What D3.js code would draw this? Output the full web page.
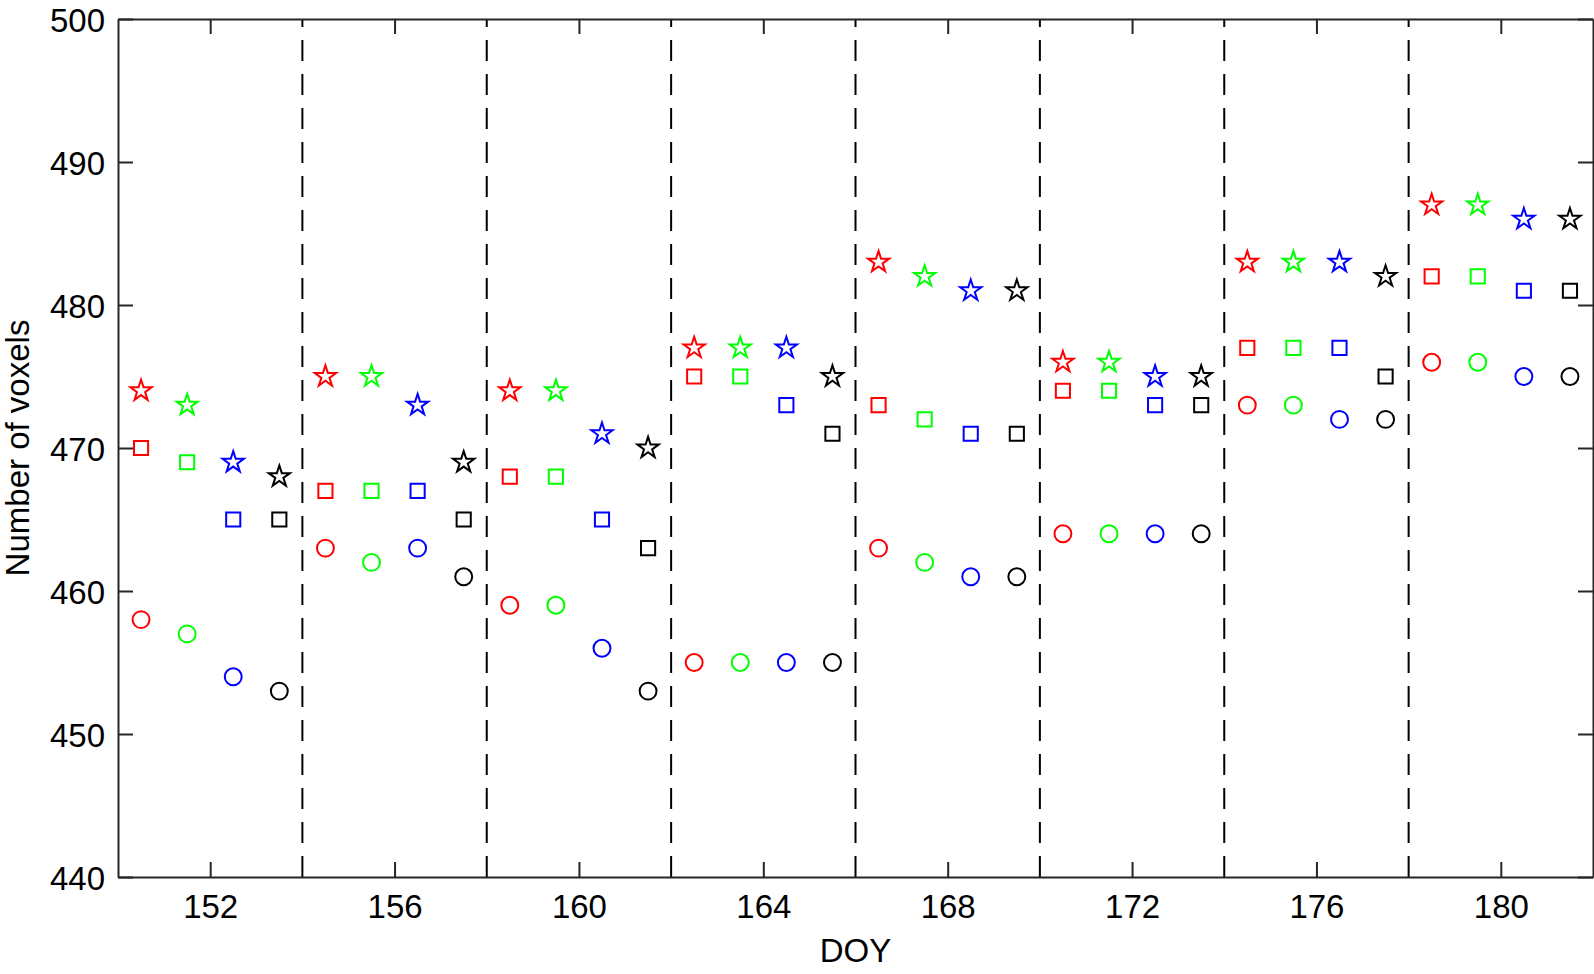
<!DOCTYPE html>
<html>
<head>
<meta charset="utf-8">
<script src="https://cdn.jsdelivr.net/npm/d3@7"></script>
<style>
  body { margin: 0; background: #fff; }
  svg text { font-family: "Liberation Sans", Arial, sans-serif; }
</style>
</head>
<body>
<div id="chart"></div>
<script>
// day of year for every marker column
const days = [150.5, 151.5, 152.5, 153.5, 154.5, 155.5, 156.5, 157.5,
              158.5, 159.5, 160.5, 161.5, 162.5, 163.5, 164.5, 165.5,
              166.5, 167.5, 168.5, 169.5, 170.5, 171.5, 172.5, 173.5,
              174.5, 175.5, 176.5, 177.5, 178.5, 179.5, 180.5, 181.5]
const stars   = [474, 473, 469, 468, 475, 475, 473, 469, 474, 474, 471, 470, 477, 477, 477, 475,
                 483, 482, 481, 481, 476, 476, 475, 475, 483, 483, 483, 482, 487, 487, 486, 486]
const squares = [470, 469, 465, 465, 467, 467, 467, 465, 468, 468, 465, 463, 475, 475, 473, 471,
                 473, 472, 471, 471, 474, 474, 473, 473, 477, 477, 477, 475, 482, 482, 481, 481]
const circles = [458, 457, 454, 453, 463, 462, 463, 461, 459, 459, 456, 453, 455, 455, 455, 455,
                 463, 462, 461, 461, 464, 464, 464, 464, 473, 473, 472, 472, 476, 476, 475, 475]
const dividers = [154, 158, 162, 166, 170, 174, 178]
const xTicks = [152, 156, 160, 164, 168, 172, 176, 180]
const yTicks = [440, 450, 460, 470, 480, 490, 500]
const COLORS = ["#ff0000", "#00ff00", "#0000ff", "#000000"]
const AXIS_COLOR = "#262626"

const width = 1594, height = 974
const margin = {left: 118, right: 1, top: 19, bottom: 97}

const svg = d3.select("#chart").append("svg").attr("width", width).attr("height", height)

let x = d3.scaleLinear().domain([150, 182]).range([margin.left, width - margin.right])
let y = d3.scaleLinear().domain([440, 500]).range([height - margin.bottom, margin.top])

// dashed separators
svg.append("g").selectAll("line").data(dividers).join("line")
    .attr("x1", d => x(d)).attr("x2", d => x(d))
    .attr("y1", y(440)).attr("y2", y(500))
    .attr("stroke", "#000").attr("stroke-width", 2)
    .attr("stroke-dasharray", "21,13")

// axes, ticks pointing inward on all four sides
function styleAxis(g) {
    g.selectAll("path.domain").attr("stroke", AXIS_COLOR).attr("stroke-width", 2)
    g.selectAll(".tick line").attr("stroke", AXIS_COLOR).attr("stroke-width", 2)
    g.selectAll("text").attr("fill", "#000").attr("font-size", "33px")
}

svg.append("g").attr("transform", `translate(0,${y(440)})`)
    .call(d3.axisBottom(x).tickValues(xTicks).tickSizeInner(-15).tickSizeOuter(0).tickPadding(18).tickFormat(d3.format("d")))
    .call(styleAxis)
svg.append("g").attr("transform", `translate(0,${y(500)})`)
    .call(d3.axisTop(x).tickValues(xTicks).tickSizeInner(-15).tickSizeOuter(0).tickFormat(""))
    .call(styleAxis)
svg.append("g").attr("transform", `translate(${x(150)},0)`)
    .call(d3.axisLeft(y).tickValues(yTicks).tickSizeInner(-15).tickSizeOuter(0).tickPadding(13).tickFormat(d3.format("d")))
    .call(styleAxis)
    .selectAll("text").attr("dy", "0.38em")
svg.append("g").attr("transform", `translate(${x(182)},0)`)
    .call(d3.axisRight(y).tickValues(yTicks).tickSizeInner(-15).tickSizeOuter(0).tickFormat(""))
    .call(styleAxis)

// markers
const series = [
    {values: stars, symbol: d3.symbol().type(d3.symbolStar).size(140)},
    {values: squares, symbol: d3.symbol().type(d3.symbolSquare).size(200)},
    {values: circles, symbol: d3.symbol().type(d3.symbolCircle).size(225)}
]
series.forEach(function (s) {
    svg.append("g").selectAll("path").data(s.values).join("path")
        .attr("d", s.symbol)
        .attr("transform", (d, i) => `translate(${x(days[i])},${y(d)})`)
        .attr("fill", "none")
        .attr("stroke", (d, i) => COLORS[i % 4])
        .attr("stroke-width", 2)
})

// axis titles
svg.append("text").text("DOY")
    .attr("x", x(166)).attr("y", 962)
    .attr("text-anchor", "middle").attr("font-size", "33px")
svg.append("text").text("Number of voxels")
    .attr("transform", `translate(29,${y(470)}) rotate(-90)`)
    .attr("text-anchor", "middle").attr("font-size", "33px")
</script>
</body>
</html>
